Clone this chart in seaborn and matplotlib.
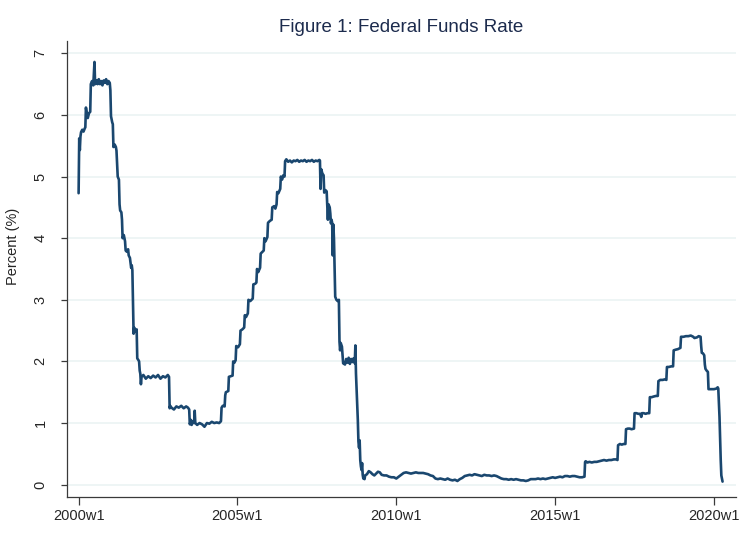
import matplotlib
matplotlib.use('Agg')
import matplotlib.pyplot as plt
import seaborn as sns
import pandas as pd

# (weeks since 2000w1, effective fed funds rate in %)
pts_2000_2003 = [
    (0, 4.73), (1, 5.62), (2, 5.43), (3, 5.65), (4, 5.72), (6, 5.76), (8, 5.73),
    (10, 5.78), (11, 5.80), (12, 6.12), (13, 6.05), (15, 5.95), (17, 6.03),
    (19, 6.05), (20, 6.50), (22, 6.55), (24, 6.48), (26, 6.86), (27, 6.50),
    (29, 6.56), (31, 6.50), (33, 6.58), (35, 6.50), (37, 6.55), (39, 6.48),
    (41, 6.56), (43, 6.52), (45, 6.58), (47, 6.50), (49, 6.55), (51, 6.52),
    (52, 6.40), (53, 5.98), (55, 5.88), (56, 5.85), (57, 5.48), (59, 5.52),
    (61, 5.48), (62, 5.42), (63, 5.20), (64, 5.00), (66, 4.95), (67, 4.55),
    (68, 4.45), (70, 4.42), (71, 4.30), (72, 4.00), (74, 4.05), (76, 3.95),
    (77, 3.80), (79, 3.78), (81, 3.82), (82, 3.72), (84, 3.68), (85, 3.60),
    (86, 3.52), (87, 3.56), (88, 3.48), (89, 2.95), (90, 2.45), (91, 2.55),
    (93, 2.48), (95, 2.52), (96, 2.05), (98, 2.02), (99, 2.00), (100, 1.85),
    (101, 1.80), (102, 1.63), (103, 1.75), (106, 1.78), (110, 1.72), (114, 1.76),
    (118, 1.73), (122, 1.77), (126, 1.74), (130, 1.78), (134, 1.72), (138, 1.76),
    (142, 1.74), (146, 1.78), (148, 1.75), (149, 1.24), (150, 1.28), (152, 1.25),
    (156, 1.22), (160, 1.27), (164, 1.25), (168, 1.28), (172, 1.24), (176, 1.27),
    (179, 1.25), (181, 1.22), (182, 0.98), (184, 1.05), (185, 0.97), (187, 1.02),
    (189, 1.00), (190, 1.20), (191, 1.00), (194, 0.97), (198, 1.00), (202, 0.98),
    (206, 0.94), (210, 1.00), (214, 0.99), (218, 1.02), (222, 1.00), (226, 1.01),
    (230, 1.00), (233, 1.03),
]
pts_2004_2008 = [
    (234, 1.25), (236, 1.28), (239, 1.27), (240, 1.45), (241, 1.50), (245, 1.52),
    (246, 1.75), (249, 1.76), (252, 1.77), (253, 2.00), (255, 1.98), (257, 2.02),
    (258, 2.25), (261, 2.23), (264, 2.28), (265, 2.50), (268, 2.52), (271, 2.55),
    (272, 2.75), (274, 2.72), (277, 2.78), (278, 3.00), (281, 2.98), (285, 3.02),
    (286, 3.25), (289, 3.26), (291, 3.28), (292, 3.50), (294, 3.45), (297, 3.52),
    (298, 3.75), (301, 3.78), (303, 3.80), (304, 4.00), (306, 3.95), (309, 4.02),
    (310, 4.25), (313, 4.28), (316, 4.30), (317, 4.50), (320, 4.52), (322, 4.48),
    (324, 4.55), (325, 4.75), (327, 4.73), (330, 4.80), (331, 5.00), (333, 4.95),
    (335, 5.02), (337, 5.00), (338, 5.25), (340, 5.28), (343, 5.24), (346, 5.26),
    (349, 5.23), (352, 5.26), (355, 5.25), (358, 5.27), (361, 5.24), (364, 5.26),
    (367, 5.25), (370, 5.27), (373, 5.24), (376, 5.26), (379, 5.25), (382, 5.27),
    (385, 5.24), (388, 5.26), (391, 5.25), (394, 5.27), (395, 5.26), (396, 4.80),
    (397, 5.12), (399, 5.05), (401, 5.02), (402, 4.74), (404, 4.78), (406, 4.76),
    (407, 4.52), (408, 4.30), (409, 4.55), (411, 4.50), (412, 4.40), (413, 4.24),
    (414, 4.30), (415, 4.25), (416, 3.72), (417, 4.22), (418, 3.98), (419, 3.50),
    (420, 3.05), (422, 3.00), (424, 2.98), (426, 3.00), (427, 2.32), (428, 2.18),
    (429, 2.30), (431, 2.24), (432, 2.10), (433, 1.97), (436, 1.95), (438, 2.04),
    (440, 1.98), (442, 2.06), (444, 1.96), (446, 2.04), (448, 1.99), (450, 2.05),
    (452, 1.97), (453, 2.26), (454, 1.80), (455, 1.55), (456, 1.32), (457, 1.05),
    (458, 0.70), (459, 0.60), (460, 0.72), (461, 0.40), (462, 0.30), (463, 0.24),
    (464, 0.35), (465, 0.16), (466, 0.10), (467, 0.14),
]
pts_2009_2015 = [
    (468, 0.09), (469, 0.15), (472, 0.17), (475, 0.22), (478, 0.20), (481, 0.17),
    (484, 0.15), (487, 0.18), (490, 0.21), (493, 0.20), (496, 0.16), (500, 0.15),
    (504, 0.15), (508, 0.13), (512, 0.12), (516, 0.12), (520, 0.10), (524, 0.13),
    (528, 0.16), (532, 0.19), (536, 0.20), (540, 0.19), (544, 0.18), (548, 0.19),
    (552, 0.20), (556, 0.19), (560, 0.19), (564, 0.19), (568, 0.18), (572, 0.17),
    (576, 0.15), (580, 0.14), (584, 0.10), (588, 0.09), (592, 0.10), (596, 0.09),
    (600, 0.08), (604, 0.10), (608, 0.08), (612, 0.07), (616, 0.08), (620, 0.06),
    (624, 0.09), (628, 0.11), (632, 0.14), (636, 0.15), (640, 0.16), (644, 0.15),
    (648, 0.17), (652, 0.16), (656, 0.15), (660, 0.14), (664, 0.16), (668, 0.15),
    (672, 0.15), (676, 0.14), (680, 0.15), (684, 0.14), (688, 0.12), (692, 0.10),
    (696, 0.09), (700, 0.09), (704, 0.08), (708, 0.09), (712, 0.08), (716, 0.09),
    (720, 0.08), (724, 0.07), (728, 0.07), (732, 0.06), (736, 0.07), (740, 0.09),
    (744, 0.09), (748, 0.09), (752, 0.10), (756, 0.09), (760, 0.10), (764, 0.09),
    (768, 0.10), (772, 0.11), (776, 0.12), (780, 0.11), (784, 0.12), (788, 0.13),
    (792, 0.12), (796, 0.14), (800, 0.14), (804, 0.13), (808, 0.14), (812, 0.14),
    (816, 0.13), (820, 0.12), (824, 0.12), (828, 0.13),
]
pts_2016_2020 = [
    (829, 0.37), (830, 0.38), (833, 0.36), (836, 0.37), (840, 0.36), (844, 0.37),
    (848, 0.37), (852, 0.38), (856, 0.39), (860, 0.40), (864, 0.39), (868, 0.40),
    (872, 0.40), (876, 0.41), (880, 0.41), (882, 0.40), (883, 0.64), (886, 0.66),
    (889, 0.65), (892, 0.66), (895, 0.66), (896, 0.90), (899, 0.91), (902, 0.91),
    (905, 0.90), (909, 0.91), (910, 1.16), (913, 1.16), (916, 1.15), (919, 1.15),
    (921, 1.10), (922, 1.16), (925, 1.16), (928, 1.15), (931, 1.16), (934, 1.16),
    (935, 1.42), (938, 1.42), (941, 1.43), (945, 1.44), (948, 1.44), (949, 1.68),
    (952, 1.70), (956, 1.70), (960, 1.71), (962, 1.70), (963, 1.91), (966, 1.91),
    (970, 1.92), (973, 1.92), (974, 2.18), (977, 2.19), (981, 2.20), (985, 2.22),
    (986, 2.40), (990, 2.40), (994, 2.41), (998, 2.41), (1002, 2.42), (1006, 2.40),
    (1008, 2.38), (1012, 2.39), (1015, 2.41), (1018, 2.40), (1019, 2.25),
    (1020, 2.14), (1022, 2.13), (1024, 2.10), (1025, 1.95), (1026, 1.88),
    (1028, 1.85), (1030, 1.83), (1031, 1.55), (1035, 1.55), (1040, 1.55),
    (1044, 1.56), (1046, 1.58), (1047, 1.56), (1049, 1.10), (1051, 0.40),
    (1052, 0.15), (1054, 0.05),
]

tick_years = [2000, 2005, 2010, 2015, 2020]
tick_labels = [f'{y}w1' for y in tick_years]
y_ticks = [0, 1, 2, 3, 4, 5, 6, 7]

# Stata weekly dates: 52 weeks per year counted from 1960w1
base = (2000 - 1960) * 52
points = pts_2000_2003 + pts_2004_2008 + pts_2009_2015 + pts_2016_2020
df = pd.DataFrame(points, columns=['week', 'rate'])
df['week'] = df['week'] + base

sns.set_style('white')
plt.rcParams['font.family'] = ['Liberation Sans', 'DejaVu Sans']

fig = plt.figure(figsize=(7.56, 5.49), dpi=100)
ax = fig.add_axes([67 / 756, 52 / 549, 669 / 756, 456 / 549])

sns.lineplot(data=df, x='week', y='rate', ax=ax, color='#1a476f',
             linewidth=1.9, estimator=None, sort=False)

ax.set_xlim(base - 19, base + 1076)
ax.set_ylim(-0.2, 7.2)
ax.set_xticks([(y - 1960) * 52 for y in tick_years])
ax.set_xticklabels(tick_labels)
ax.set_yticks(y_ticks)
ax.set_yticklabels([str(v) for v in y_ticks], rotation=90, va='center')

ax.grid(axis='y', color='#eaf2f3', linewidth=1.1)
ax.grid(axis='x', visible=False)
for side in ['top', 'right']:
    ax.spines[side].set_visible(False)
for side in ['left', 'bottom']:
    ax.spines[side].set_color('#3a3a3a')
    ax.spines[side].set_linewidth(0.9)

ax.tick_params(axis='x', direction='out', length=6, width=0.9, color='#3a3a3a',
               labelsize=10.5, pad=3, bottom=True)
ax.tick_params(axis='y', direction='out', length=4, width=0.9, color='#3a3a3a',
               labelsize=10.5, pad=10, left=True)

ax.set_xlabel('')
ax.set_ylabel('Percent (%)', fontsize=10.5)
ax.yaxis.set_label_coords(-0.070, 0.549)

fig.text(401 / 756, 1 - 28 / 549, 'Figure 1: Federal Funds Rate', ha='center',
         va='center', fontsize=13.5, color='#1c2b4d')

fig.savefig('out.png', dpi=100, facecolor='white')
